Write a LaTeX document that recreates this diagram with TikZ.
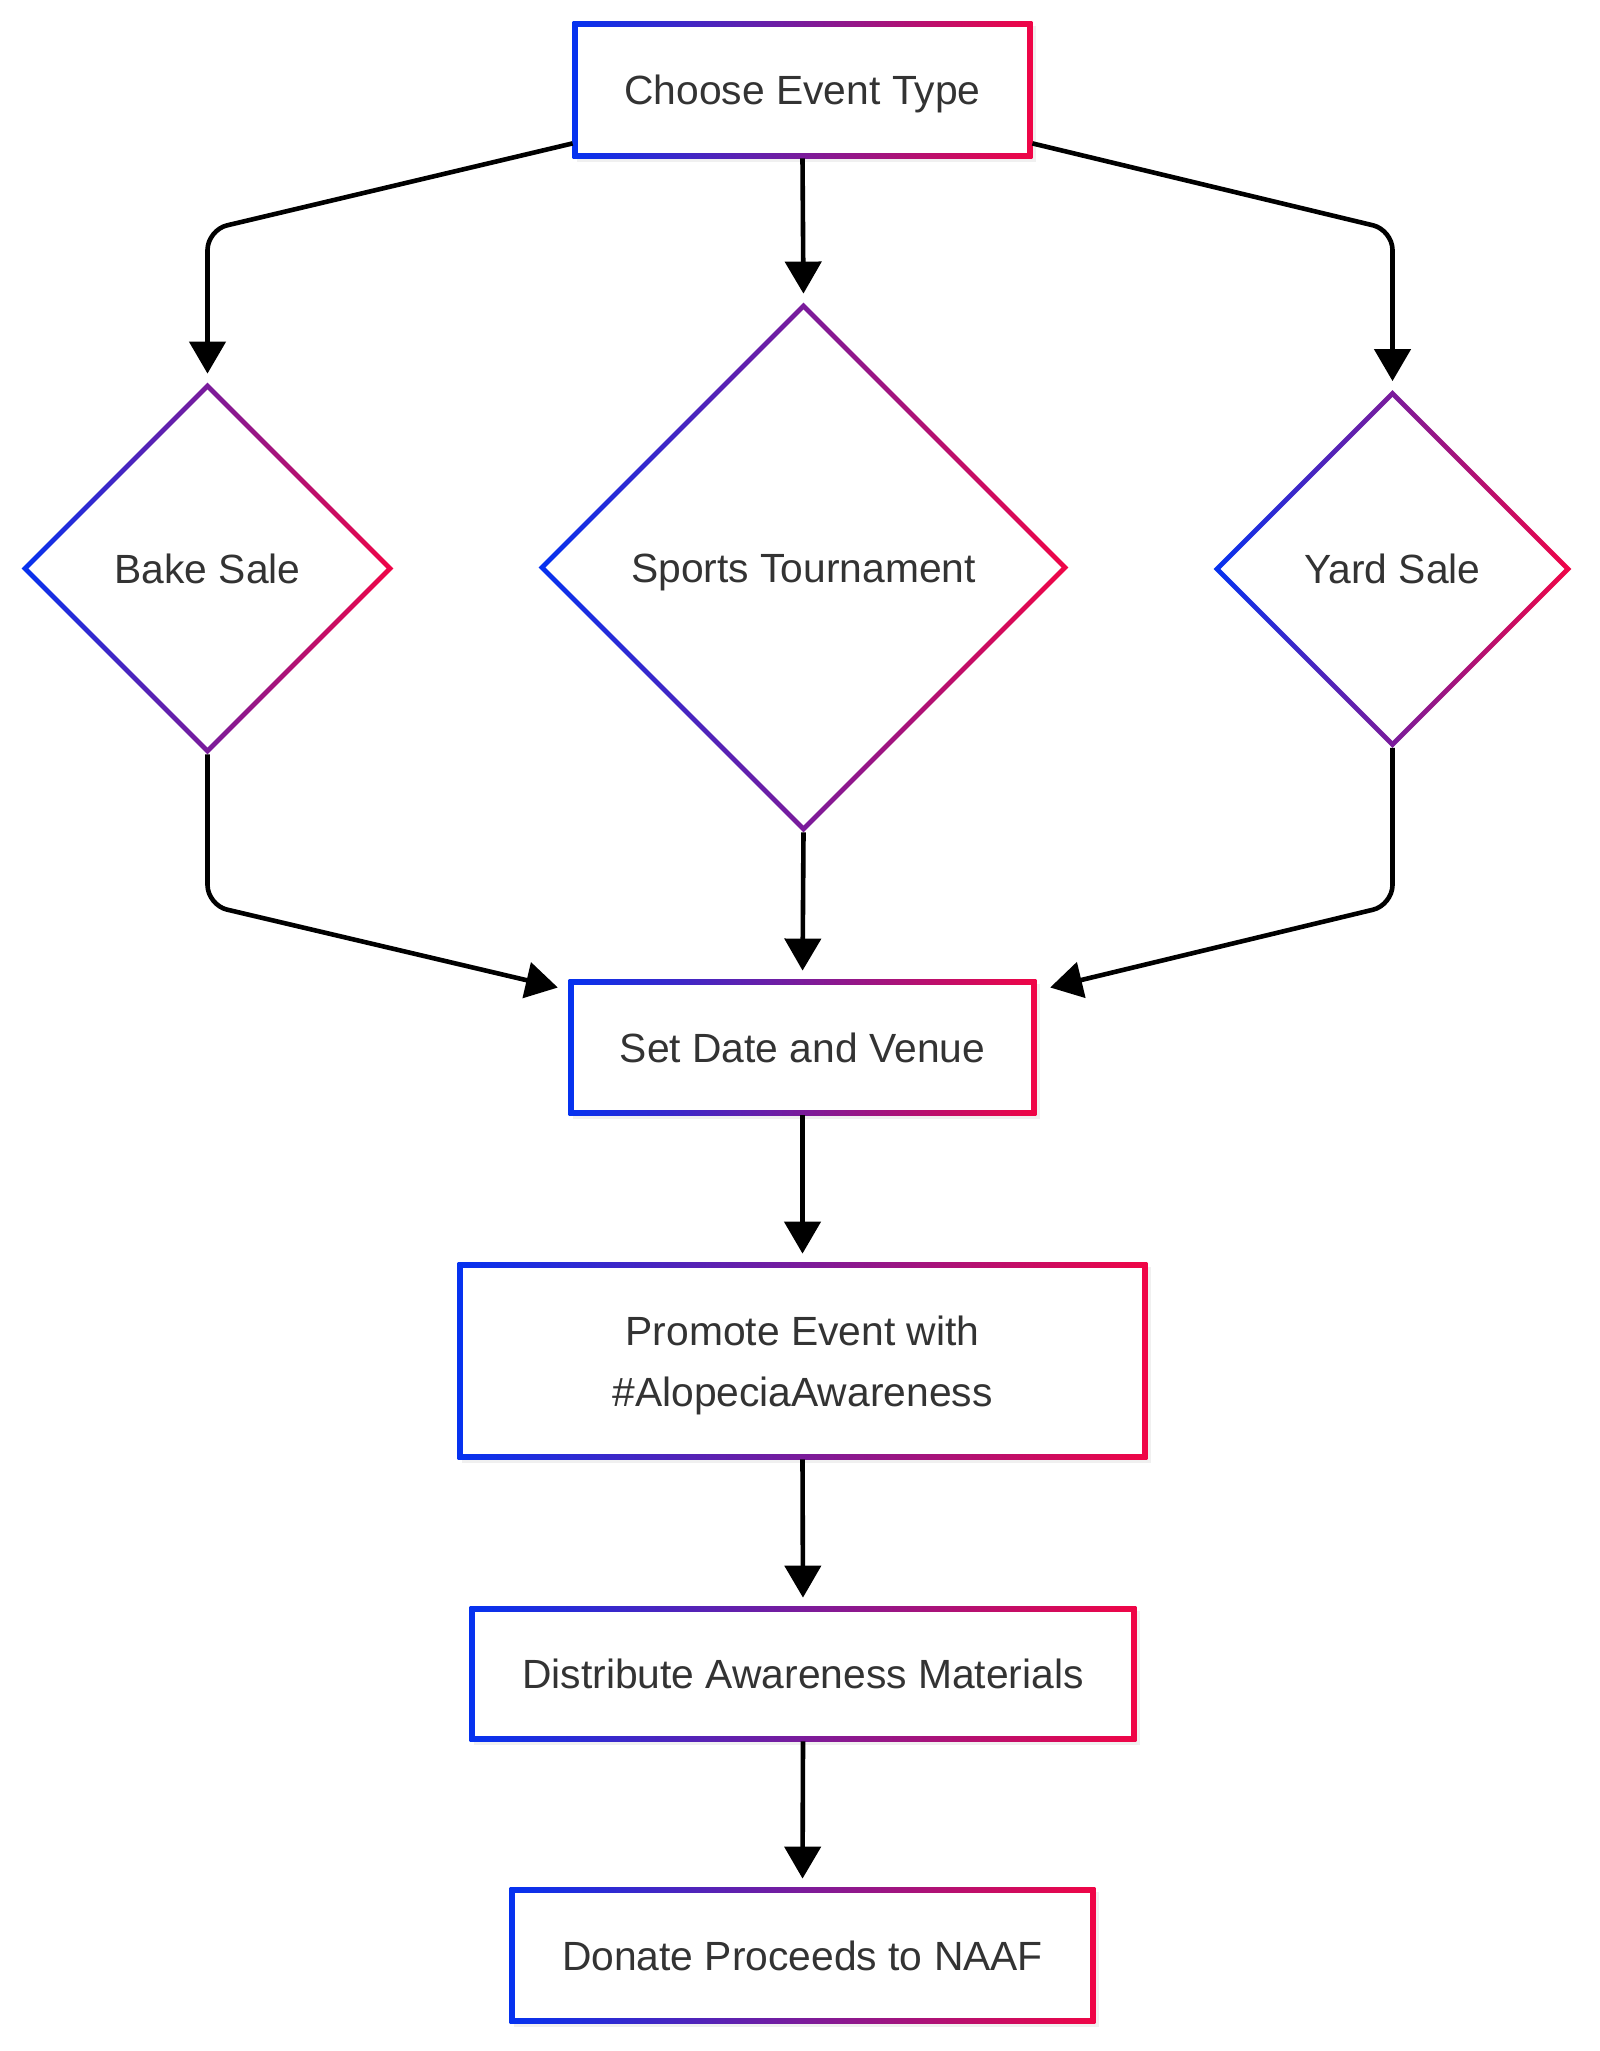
\documentclass[tikz,border=0pt]{standalone}
\usepackage{fontspec}
\setmainfont{Liberation Sans}
\usepackage{tikz}
\usetikzlibrary{shapes.geometric}
\usetikzlibrary{arrows.meta}
\usetikzlibrary{backgrounds}

\definecolor{eblue}{RGB}{5,50,240}
\definecolor{ered}{RGB}{240,5,70}
\definecolor{etext}{RGB}{51,51,51}
\newcommand{\evfont}{\fontsize{20.4}{30.6}\selectfont}

% gradient frame round a box node
\newcommand{\rectframe}[1]{%
  \fill[black, opacity=0.06] ([shift={(2pt,-2pt)}]#1.south west) rectangle ([shift={(2pt,-2pt)}]#1.north east);
  \shade[left color=eblue, right color=ered] (#1.south west) rectangle (#1.north east);
  \fill[white] ([shift={(2.5pt,2.5pt)}]#1.south west) rectangle ([shift={(-2.5pt,-2.5pt)}]#1.north east);}
% gradient frame round a diamond node
\newcommand{\diamframe}[1]{%
  \shade[left color=eblue, right color=ered] (#1.north) -- (#1.east) -- (#1.south) -- (#1.west) -- cycle;
  \fill[white] ([yshift=-3.5pt]#1.north) -- ([xshift=-3.5pt]#1.east) -- ([yshift=3.5pt]#1.south) -- ([xshift=3.5pt]#1.west) -- cycle;}

\begin{document}
\begin{tikzpicture}[x=0.5pt, y=-0.5pt,
    box/.style={rectangle, inner sep=0pt, align=center, text=etext, font=\evfont, text height=14.9pt, text depth=0pt},
    choice/.style={diamond, aspect=1, inner sep=0pt, align=center, text=etext, font=\evfont, text height=14.9pt, text depth=0pt},
    flow/.style={-{Triangle[length=16pt,width=18pt]}, line width=2.3pt, rounded corners=10pt, shorten >=4.5pt}]
    \useasboundingbox (0,0) rectangle (1600,2051);

    % Event type and the three choices
    \node[box, minimum width=229.5pt, minimum height=68pt] (choose) at (802.5,90) {Choose Event Type};
    \node[choice, minimum size=185.5pt] (bake) at (207.5,568.5) {Bake Sale};
    \node[choice, minimum size=264.5pt] (sports) at (803.5,567.5) {Sports Tournament};
    \node[choice, minimum size=178.5pt] (yard) at (1392.5,569) {Yard Sale};

    % Steps after the choice
    \node[box, minimum width=233.5pt, minimum height=67.5pt] (date) at (802.5,1047.5) {Set Date and Venue};
    \node[box, minimum width=344.5pt, minimum height=98pt, text height={}, text depth={}] (promote) at (802.5,1361) {\rule{0pt}{19pt}Promote Event with\\\#AlopeciaAwareness};
    \node[box, minimum width=333pt, minimum height=67pt] (distribute) at (803,1674) {Distribute Awareness Materials};
    \node[box, minimum width=292.5pt, minimum height=67.5pt] (donate) at (802.5,1955.5) {Donate Proceeds to NAAF};

    % Frames
    \begin{scope}[on background layer]
        \rectframe{choose}
        \diamframe{bake}
        \diamframe{sports}
        \diamframe{yard}
        \rectframe{date}
        \rectframe{promote}
        \rectframe{distribute}
        \rectframe{donate}
    \end{scope}

    % Branching out
    \draw[flow] ([yshift=7.5pt]choose.south west) -- (bake.north |- 0,230) -- (bake.north);
    \draw[flow] (choose.south) -- (sports.north);
    \draw[flow] ([yshift=7.5pt]choose.south east) -- (yard.north |- 0,230) -- (yard.north);

    % Joining again
    \draw[flow] (bake.south) -- (bake.south |- 0,905) -- ([shift={(-1pt,-5pt)}]date.north west);
    \draw[flow] (sports.south) -- (date.north);
    \draw[flow] (yard.south) -- (yard.south |- 0,905) -- ([shift={(2.5pt,-5pt)}]date.north east);

    % Straight down
    \draw[flow] (date.south) -- (promote.north);
    \draw[flow] (promote.south) -- (distribute.north);
    \draw[flow] (distribute.south) -- (donate.north);
\end{tikzpicture}
\end{document}
